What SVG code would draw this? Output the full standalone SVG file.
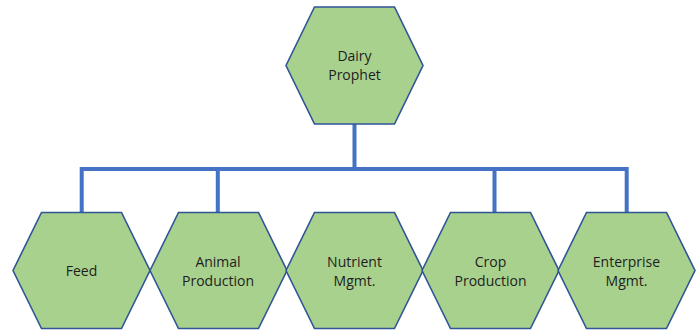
<svg xmlns="http://www.w3.org/2000/svg" width="699" height="330" viewBox="0 0 699 330">
<style>
.hex{fill:#A9D18E;stroke:#2F5597;stroke-width:1.6}
.lbl{font-family:"Open Sans","Liberation Sans",sans-serif;font-size:14px;fill:#1e1e1e;text-anchor:middle}
.conn{fill:none;stroke:#4472C4;stroke-width:4}
</style>
<rect width="699" height="330" fill="#fff"/>
<g id="connectors">
<path class="conn" d="M354.5 124 V169 M81.7 213 V169 H626.7 V213 M217.8 169 V213 M494.5 169 V213"/>
</g>
<g id="dairy-prophet">
<polygon class="hex" points="286,65.5 314.5,7 394.5,7 423,65.5 394.5,124 314.5,124"/>
<text class="lbl" x="354.5" y="61">Dairy</text>
<text class="lbl" x="354.5" y="80">Prophet</text>
</g>
<g id="feed">
<polygon class="hex" points="13,270.5 41.5,212.5 121.5,212.5 150,270.5 121.5,328.5 41.5,328.5"/>
<text class="lbl" x="81.5" y="275.5">Feed</text>
</g>
<g id="animal-production">
<polygon class="hex" points="150,270.5 178.5,212.5 258.5,212.5 287,270.5 258.5,328.5 178.5,328.5"/>
<text class="lbl" x="218" y="266.5">Animal</text>
<text class="lbl" x="218" y="285.5">Production</text>
</g>
<g id="nutrient-mgmt">
<polygon class="hex" points="286,270.5 314.5,212.5 394.5,212.5 423,270.5 394.5,328.5 314.5,328.5"/>
<text class="lbl" x="354.5" y="266.5">Nutrient</text>
<text class="lbl" x="354.5" y="285.5">Mgmt.</text>
</g>
<g id="crop-production">
<polygon class="hex" points="422,270.5 450.5,212.5 530.5,212.5 559,270.5 530.5,328.5 450.5,328.5"/>
<text class="lbl" x="490.5" y="266.5">Crop</text>
<text class="lbl" x="490.5" y="285.5">Production</text>
</g>
<g id="enterprise-mgmt">
<polygon class="hex" points="558,270.5 586.5,212.5 666.5,212.5 695,270.5 666.5,328.5 586.5,328.5"/>
<text class="lbl" x="626.5" y="266.5">Enterprise</text>
<text class="lbl" x="626.5" y="285.5">Mgmt.</text>
</g>
</svg>
